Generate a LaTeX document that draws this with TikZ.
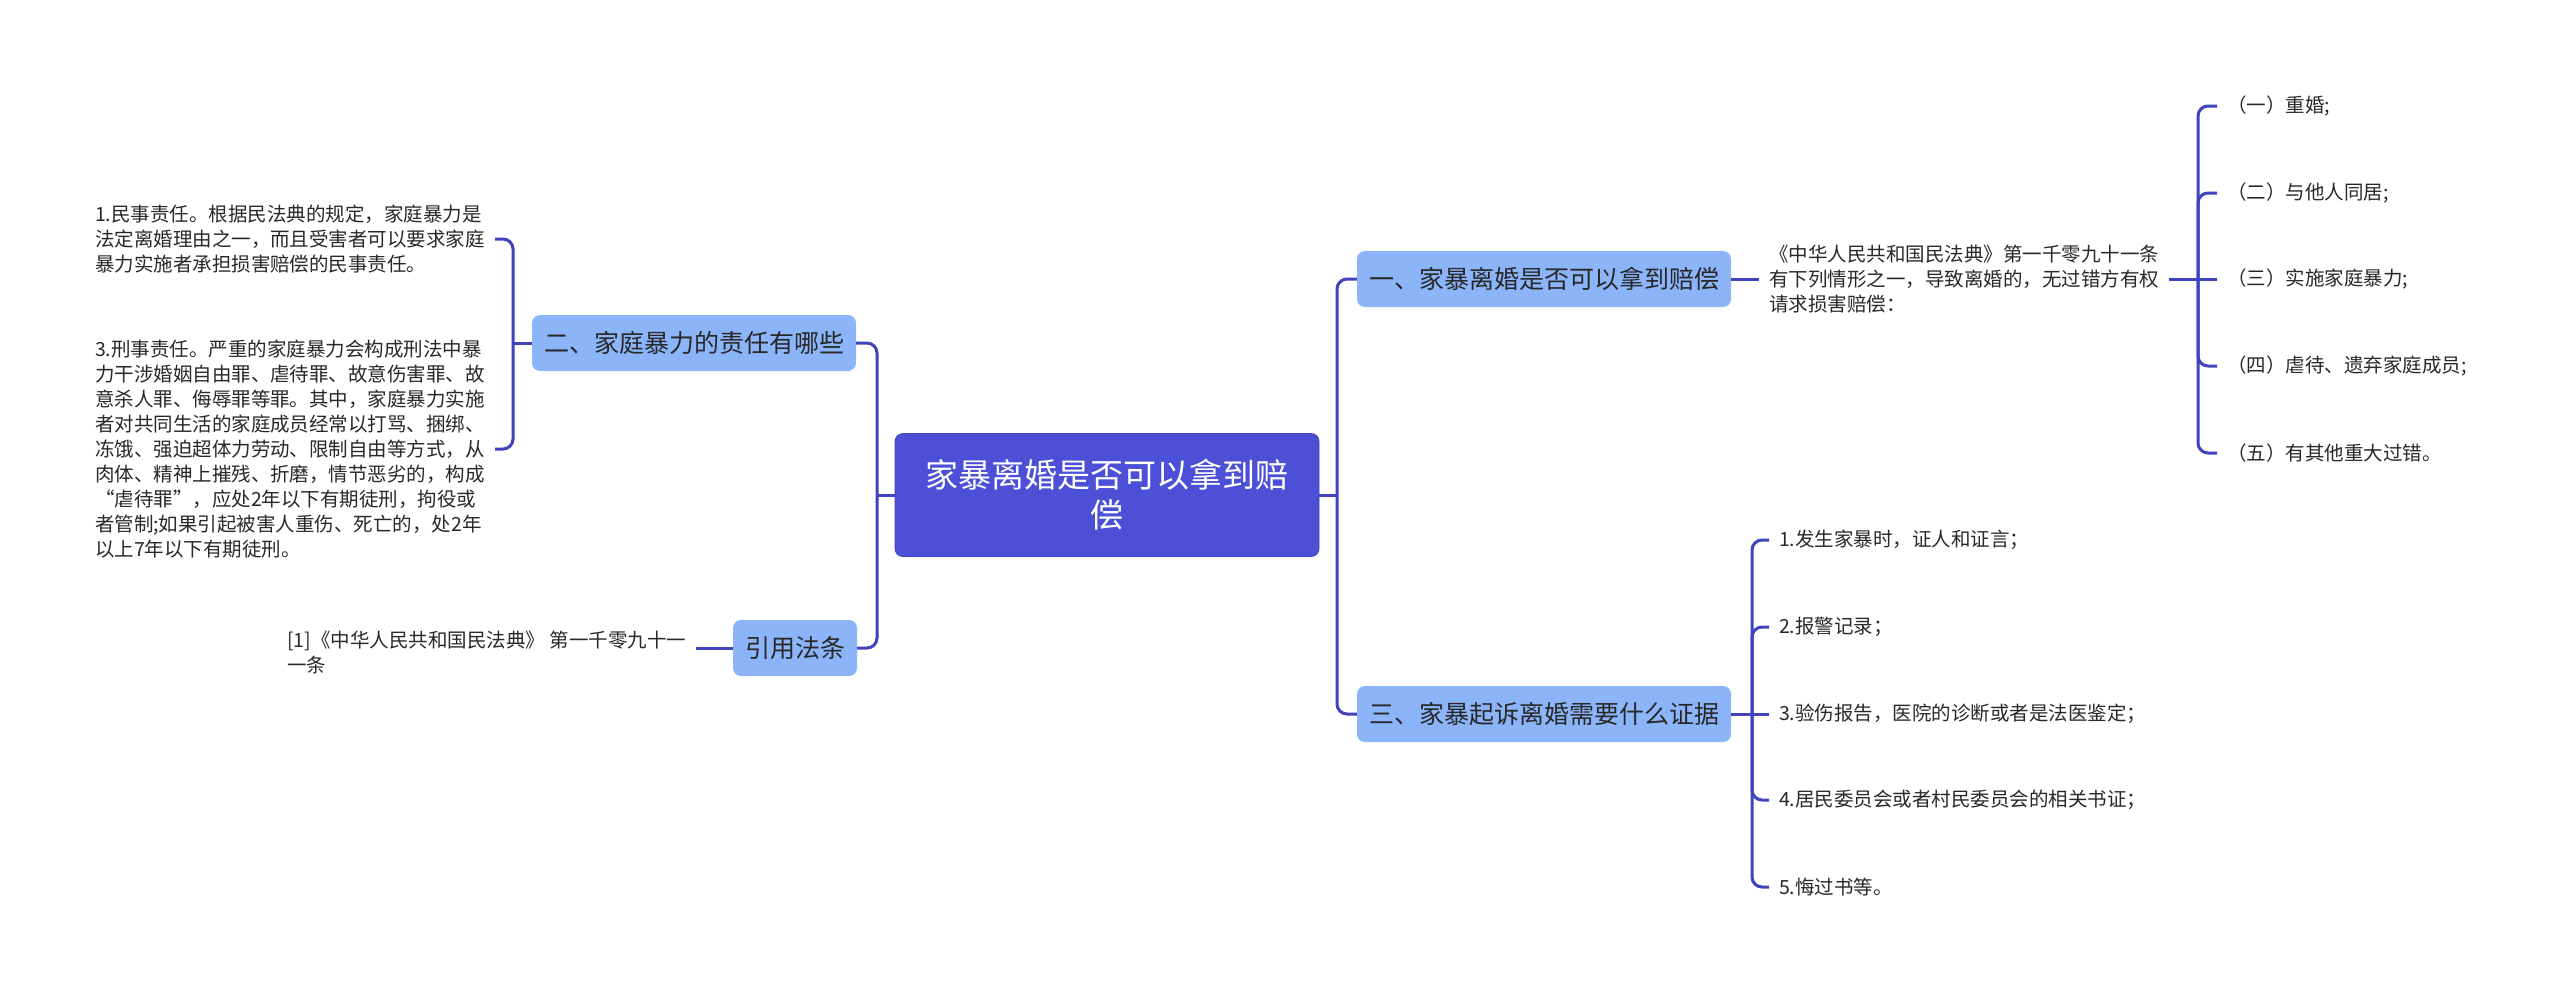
\documentclass[tikz,border=0pt]{standalone}
\usepackage{fontspec}
\usepackage{tikz}
\usetikzlibrary{positioning}
\newfontfamily\cjk{Noto Sans CJK SC}
\definecolor{rootblue}{RGB}{75,80,214}
\definecolor{topicblue}{RGB}{139,180,249}
\definecolor{linkblue}{RGB}{63,67,192}
\definecolor{textgray}{RGB}{40,40,40}
\tikzset{
  rootnode/.style={fill=rootblue,draw=rootblue!85!black,line width=0.8pt,rounded corners=8pt,minimum width=424pt,
    minimum height=123pt,align=center,text=white,font=\cjk\fontsize{33}{40}\selectfont},
  topicnode/.style={fill=topicblue,rounded corners=8pt,minimum height=56pt,inner xsep=12pt,text=textgray,
    font=\cjk\fontsize{25}{30}\selectfont},
  leafnode/.style={inner sep=0pt,outer xsep=10pt,align=left,text=textgray,font=\cjk\fontsize{19.5}{25}\selectfont},
  link/.style={draw=linkblue,line width=3pt,rounded corners=10pt}
}
\begin{document}
\begin{tikzpicture}[x=1pt,y=-1pt]
  \fill[white] (0,0) rectangle (2560,993);
  \useasboundingbox (0,0) rectangle (2560,993);
  % centre
  \node[rootnode] (root) at (1107,495) {家暴离婚是否可以拿到赔\\偿};
  \coordinate (trR) at (1337,495);
  \coordinate (trL) at (877,495);
  % right side
  \node[topicnode] (n1) at (1544,279) {一、家暴离婚是否可以拿到赔偿};
  \node[topicnode] (n3) at (1544,714) {三、家暴起诉离婚需要什么证据};
  \node[leafnode,anchor=west] (tA) at (1759,279) {《中华人民共和国民法典》第一千零九十一条\\有下列情形之一，导致离婚的，无过错方有权\\请求损害赔偿：};
  \coordinate (bA) at (2198,279);
  \node[leafnode,anchor=west] (a1) at (2217,106) {（一）重婚;};
  \node[leafnode,anchor=west] (a2) at (2217,193) {（二）与他人同居;};
  \node[leafnode,anchor=west] (a3) at (2217,279) {（三）实施家庭暴力;};
  \node[leafnode,anchor=west] (a4) at (2217,366) {（四）虐待、遗弃家庭成员;};
  \node[leafnode,anchor=west] (a5) at (2217,453) {（五）有其他重大过错。};
  \coordinate (bB) at (1752,714);
  \node[leafnode,anchor=west] (b1) at (1769,540) {1.发生家暴时，证人和证言；};
  \node[leafnode,anchor=west] (b2) at (1769,627) {2.报警记录；};
  \node[leafnode,anchor=west] (b3) at (1769,714) {3.验伤报告，医院的诊断或者是法医鉴定；};
  \node[leafnode,anchor=west] (b4) at (1769,800) {4.居民委员会或者村民委员会的相关书证；};
  \node[leafnode,anchor=west] (b5) at (1769,887) {5.悔过书等。};
  % left side
  \node[topicnode] (n2) at (694,343) {二、家庭暴力的责任有哪些};
  \node[topicnode] (n4) at (795,648) {引用法条};
  \coordinate (bL) at (513,343);
  \node[leafnode,anchor=east] (l1) at (495,239) {1.民事责任。根据民法典的规定，家庭暴力是\\法定离婚理由之一，而且受害者可以要求家庭\\暴力实施者承担损害赔偿的民事责任。};
  \node[leafnode,anchor=east] (l3) at (495,449) {3.刑事责任。严重的家庭暴力会构成刑法中暴\\力干涉婚姻自由罪、虐待罪、故意伤害罪、故\\意杀人罪、侮辱罪等罪。其中，家庭暴力实施\\者对共同生活的家庭成员经常以打骂、捆绑、\\冻饿、强迫超体力劳动、限制自由等方式，从\\肉体、精神上摧残、折磨，情节恶劣的，构成\\“虐待罪”，应处2年以下有期徒刑，拘役或\\者管制;如果引起被害人重伤、死亡的，处2年\\以上7年以下有期徒刑。};
  \node[leafnode,anchor=east] (l4) at (696,652) {[1]《中华人民共和国民法典》 第一千零九十一\\一条};
  % links
  \draw[link] (root.east) -- (trR);
  \draw[link] (n1.west) -| (trR) |- (n3.west);
  \draw[link] (root.west) -- (trL);
  \draw[link] (n2.east) -| (trL) |- (n4.east);
  \draw[link] (n1.east) -- (tA.west);
  \draw[link] (tA.east) -- (a3.west);
  \draw[link] (a1.west) -| (bA) |- (a5.west);
  \draw[link] (bA) |- (a2.west); \draw[link] (bA) |- (a4.west);
  \draw[link] (n3.east) -- (b3.west);
  \draw[link] (b1.west) -| (bB) |- (b5.west);
  \draw[link] (bB) |- (b2.west); \draw[link] (bB) |- (b4.west);
  \draw[link] (n2.west) -- (bL);
  \draw[link] (l1.east) -| (bL) |- (l3.east);
  \draw[link] (n4.west) -- (l4.east |- n4.west);
\end{tikzpicture}
\end{document}
